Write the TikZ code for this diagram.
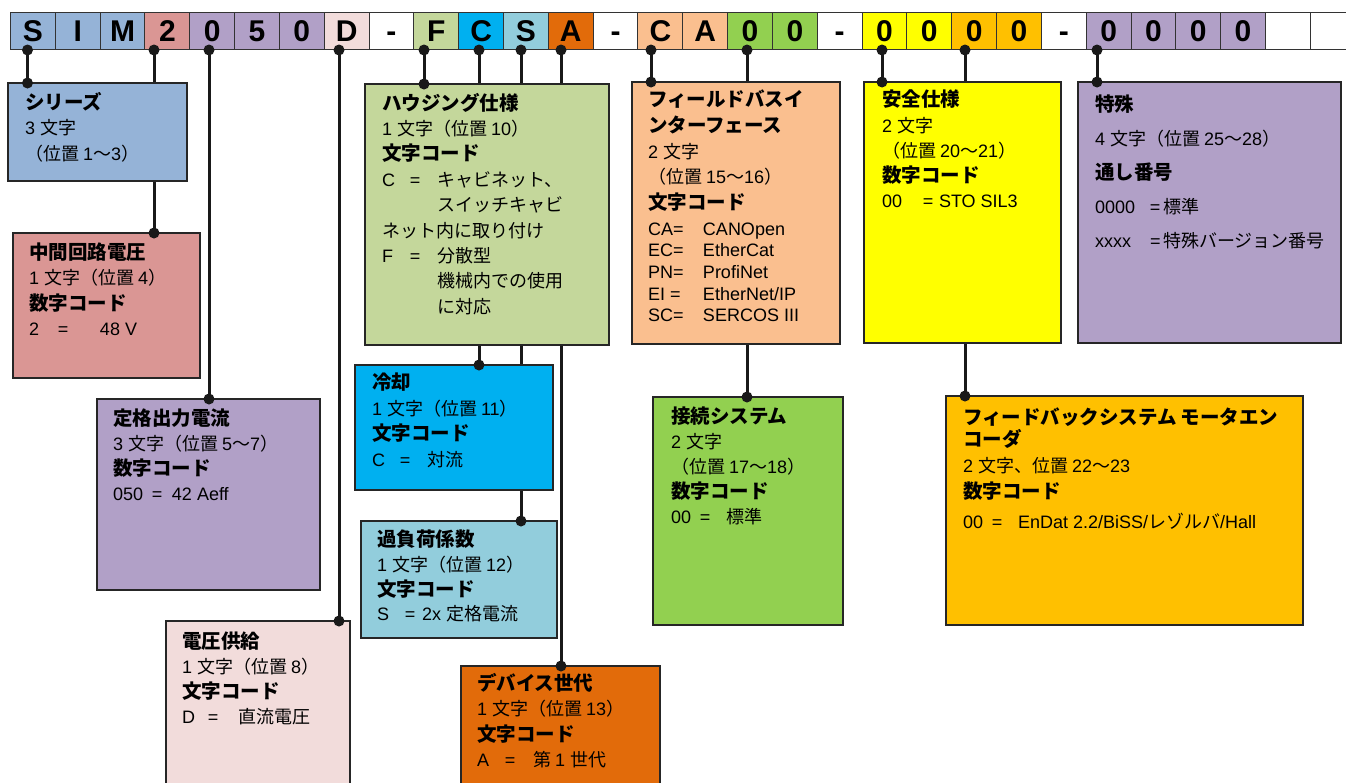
\documentclass[tikz,border=0pt]{standalone}
\usepackage{fontspec}
\setmainfont{Liberation Sans}
\newfontfamily\jpfont{Noto Sans CJK JP}
\newXeTeXintercharclass\jpclass
\newcount\jpc
\newcommand\setjprange[2]{\jpc=#1\relax\loop\XeTeXcharclass\jpc=\jpclass\relax\advance\jpc by 1\relax\ifnum\jpc<#2\relax\repeat}
\setjprange{"3000}{"3100}
\setjprange{"4E00}{"A000}
\setjprange{"FF00}{"FFF0}
\XeTeXinterchartoks 0 \jpclass = {\jpfont}
\XeTeXinterchartoks 4095 \jpclass = {\jpfont}
\XeTeXinterchartoks \jpclass 0 = {\rmfamily}
\XeTeXinterchartoks 4095 0 = {\rmfamily}
\XeTeXinterchartokenstate=1
\definecolor{hS}{HTML}{95B3D7}
\definecolor{hDC}{HTML}{DA9694}
\definecolor{hCur}{HTML}{B1A0C7}
\definecolor{hVS}{HTML}{F2DCDB}
\definecolor{hHS}{HTML}{C4D79B}
\definecolor{hCool}{HTML}{00B0F0}
\definecolor{hOL}{HTML}{92CDDC}
\definecolor{hGen}{HTML}{E26B0A}
\definecolor{hFB}{HTML}{FABF8F}
\definecolor{hConn}{HTML}{92D050}
\definecolor{hSafe}{HTML}{FFFF00}
\definecolor{hFbk}{HTML}{FFC000}
\newcommand\ttl[1]{{\fontsize{19.5}{25}\selectfont\bfseries #1}}
\newcommand\cd[4]{\makebox[#1pt][l]{#3}\makebox[#2pt][l]{=}#4}
\pgfdeclarelayer{bg}
\pgfsetlayers{bg,main}
\begin{document}
\begin{tikzpicture}[x=1pt,y=-1pt,
  cell/.style={draw=black!80, line width=1pt, minimum width=44.82pt, minimum height=37pt,
    inner sep=0pt, outer sep=0pt, text height=21.5pt, text depth=0pt,
    font=\fontsize{30}{30}\selectfont\bfseries},
  bx/.style={draw=black!85, line width=1.5pt, anchor=north west, inner sep=0pt, outer sep=0pt},
  conn/.style={line width=3pt, draw=black!90},
  txt/.style={anchor=north west, inner sep=0pt, outer sep=0pt, align=left,
    font={\fontsize{18}{#1}\selectfont\lineskiplimit-100pt},
    execute at begin node={\rule{0pt}{20pt}}},
  txt/.default=25.5]
\useasboundingbox (0,0) rectangle (1346,782);
\clip (0,0) rectangle (1346,782);

% header cells
\foreach \i/\t/\c in {0/S/hS,1/I/hS,2/M/hS,3/2/hDC,4/0/hCur,5/5/hCur,6/0/hCur,7/D/hVS,8/-/white,
  9/F/hHS,10/C/hCool,11/S/hOL,12/A/hGen,13/-/white,14/C/hFB,15/A/hFB,16/0/hConn,17/0/hConn,18/-/white,
  19/0/hSafe,20/0/hSafe,21/0/hFbk,22/0/hFbk,23/-/white,24/0/hCur,25/0/hCur,26/0/hCur,27/0/hCur,
  28/{}/white,29/{}/white}
  \node[cell, fill=\c] (c\i) at ({10.5+44.82*\i+22.41},30.5) {\t};

% boxes
\node[bx, fill=hS,    minimum width=179pt, minimum height=98pt]  (sr)  at (8,83) {};
\node[bx, fill=hDC,   minimum width=187pt, minimum height=145pt] (dc)  at (13,233) {};
\node[bx, fill=hCur,  minimum width=223pt, minimum height=191pt] (cur) at (97,399) {};
\node[bx, fill=hVS,   minimum width=184pt, minimum height=179pt] (vs)  at (166,621) {};
\node[bx, fill=hHS,   minimum width=244pt, minimum height=261pt] (hs)  at (365,84) {};
\node[bx, fill=hCool, minimum width=198pt, minimum height=125pt] (cool) at (355,365) {};
\node[bx, fill=hOL,   minimum width=196pt, minimum height=117pt] (ol)  at (361,521) {};
\node[bx, fill=hGen,  minimum width=199pt, minimum height=134pt] (gen) at (461,666) {};
\node[bx, fill=hFB,   minimum width=208pt, minimum height=262pt] (fb)  at (632,82) {};
\node[bx, fill=hConn, minimum width=190pt, minimum height=228pt] (cn)  at (653,397) {};
\node[bx, fill=hSafe, minimum width=197pt, minimum height=261pt] (sf)  at (864,82) {};
\node[bx, fill=hCur,  minimum width=263pt, minimum height=261pt] (sp)  at (1078,82) {};
\node[bx, fill=hFbk,  minimum width=357pt, minimum height=229pt] (fk)  at (946,396) {};

% connector start points
\coordinate (d0) at (27.5,50);
\coordinate (d3) at (154,50);
\coordinate (d4) at (209,50);
\coordinate (d7) at (339,50);
\coordinate (d9) at (424,50);
\coordinate (d10) at (479,50);
\coordinate (d11) at (521,50);
\coordinate (d12) at (561,50);
\coordinate (d14) at (651,50);
\coordinate (d16) at (747,50);
\coordinate (d19) at (882,50);
\coordinate (d21) at (965,50);
\coordinate (d24) at (1097,50);

\begin{pgfonlayer}{bg}
\fill[white] (0,0) rectangle (1346,782);
\foreach \d/\b in {d0/sr,d3/dc,d4/cur,d7/vs,d9/hs,d10/cool,d11/ol,d12/gen,d14/fb,d16/cn,d19/sf,d21/fk,d24/sp}
  \draw[conn] (\d) -- (\d |- \b.north);
\end{pgfonlayer}
\foreach \d/\b in {d0/sr,d3/dc,d4/cur,d7/vs,d9/hs,d10/cool,d11/ol,d12/gen,d14/fb,d16/cn,d19/sf,d21/fk,d24/sp}{
  \fill[black!90] (\d) circle[radius=5.5pt];
  \fill[black!90] (\d |- \b.north) circle[radius=5.5pt];
}

% texts
\node[txt=25.5] (sr-t) at (25,92) {\ttl{シリーズ}\\3 文字\\（位置 1〜3）};
\node[txt=25.3] (dc-t) at (29,243) {\ttl{中間回路電圧}\\1 文字（位置 4）\\\ttl{数字コード}\\\cd{29}{42}{2}{48 V}};
\node[txt=25] (cur-t) at (113,409) {\ttl{定格出力電流}\\3 文字（位置 5〜7）\\\ttl{数字コード}\\\cd{39}{20}{050}{42 Aeff}};
\node[txt=25] (vs-t) at (182,632) {\ttl{電圧供給}\\1 文字（位置 8）\\\ttl{文字コード}\\\cd{26}{30}{D}{直流電圧}};
\node[txt=25.4] (hs-t) at (382,93) {\ttl{ハウジング仕様}\\1 文字（位置 10）\\\ttl{文字コード}\\\cd{28}{27}{C}{キャビネット、}\\\hspace*{55pt}スイッチキャビ\\ネット内に取り付け\\\cd{28}{27}{F}{分散型}\\\hspace*{55pt}機械内での使用\\\hspace*{55pt}に対応};
\node[txt=25.6] (cool-t) at (372,373) {\ttl{冷却}\\1 文字（位置 11）\\\ttl{文字コード}\\\cd{28}{27}{C}{対流}};
\node[txt=24.7] (ol-t) at (377,530) {\ttl{過負荷係数}\\1 文字（位置 12）\\\ttl{文字コード}\\\cd{28}{17}{S}{2x 定格電流}};
\node[txt=25.6] (gen-t) at (477,673) {\ttl{デバイス世代}\\1 文字（位置 13）\\\ttl{文字コード}\\\cd{28}{28}{A}{第 1 世代}};
\node[txt=25.7] (fb-t) at (648,90) {\ttl{フィールドバスイ}\\\ttl{ンターフェース}\\2 文字\\（位置 15〜16）\\\ttl{文字コード}\\\makebox[55pt][l]{CA=}CANOpen\\[-4pt]\makebox[55pt][l]{EC=}EtherCat\\[-4pt]\makebox[55pt][l]{PN=}ProfiNet\\[-4pt]\makebox[55pt][l]{EI =}EtherNet/IP\\[-4pt]\makebox[55pt][l]{SC=}SERCOS III};
\node[txt=25] (cn-t) at (671,407) {\ttl{接続システム}\\2 文字\\（位置 17〜18）\\\ttl{数字コード}\\\cd{29}{26}{00}{標準}};
\node[txt=25.3] (sf-t) at (882,90) {\ttl{安全仕様}\\2 文字\\（位置 20〜21）\\\ttl{数字コード}\\\cd{41}{16}{00}{STO SIL3}};
\node[txt=34] (sp-t) at (1095,95) {\ttl{特殊}\\4 文字（位置 25〜28）\\\ttl{通し番号}\\\cd{55}{13}{0000}{標準}\\\cd{55}{13}{xxxx}{特殊バージョン番号}};
\node[txt=26] (fk-t) at (963,408) {\ttl{フィードバックシステム モータエン}\\[-4pt]\ttl{コーダ}\\2 文字、位置 22〜23\\\ttl{数字コード}\\[4pt]\cd{29}{26}{00}{EnDat 2.2/BiSS/レゾルバ/Hall}};
\end{tikzpicture}
\end{document}
